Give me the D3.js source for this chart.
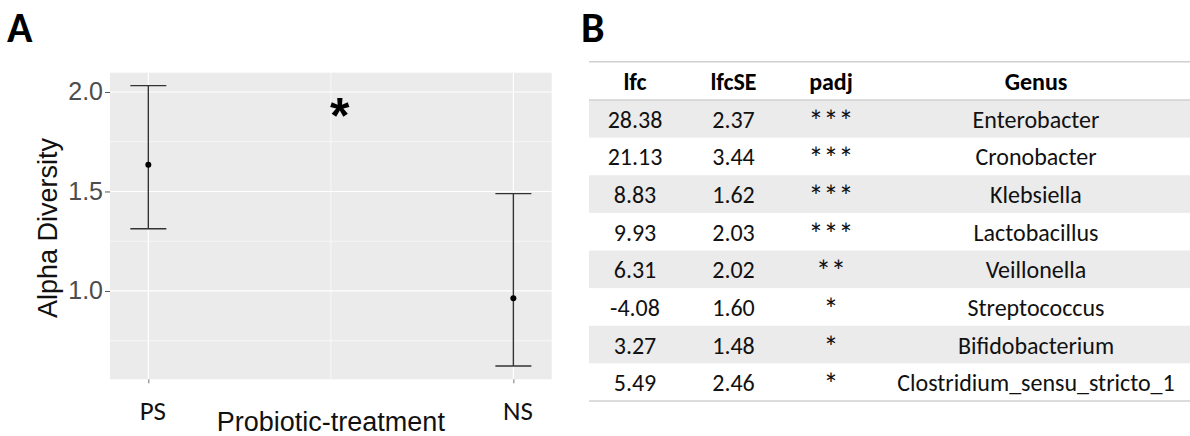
<!DOCTYPE html>
<html>
<head>
<meta charset="utf-8">
<script src="https://cdn.jsdelivr.net/npm/d3@7"></script>
<style>
  html, body { margin: 0; padding: 0; background: #ffffff; }
  svg { display: block; }
</style>
</head>
<body>
<svg id="chart" width="1190" height="436"></svg>
<script>
// ---------- Panel A data ----------
const groups = ["PS", "NS"];
const means = [1.634, 0.963];
const lower = [1.313, 0.623];
const upper = [2.032, 1.489];
const yTicks = [1.0, 1.5, 2.0];
const yMinor = [0.75, 1.25, 1.75];
const sigMark = "*";
const sigValue = 1.91;

// ---------- Panel B data ----------
const tableHeader = ["lfc", "lfcSE", "padj", "Genus"];
const lfc = ["28.38", "21.13", "8.83", "9.93", "6.31", "-4.08", "3.27", "5.49"];
const lfcSE = ["2.37", "3.44", "1.62", "2.03", "2.02", "1.60", "1.48", "2.46"];
const padj = ["***", "***", "***", "***", "**", "*", "*", "*"];
const genus = ["Enterobacter", "Cronobacter", "Klebsiella", "Lactobacillus",
               "Veillonella", "Streptococcus", "Bifidobacterium", "Clostridium_sensu_stricto_1"];

const svg = d3.select("#chart");
svg.append("rect").attr("width", 1190).attr("height", 436).attr("fill", "#ffffff");

const calibri = "Carlito, Lato, 'Open Sans', sans-serif";
const arial = "'Liberation Sans', Arial, sans-serif";

// ---------- Panel labels ----------
svg.append("text").attr("x", 7).attr("y", 42).text("A")
  .attr("font-family", calibri).attr("font-weight", 900).attr("font-size", 42).attr("fill", "#000");
svg.append("text").attr("x", 581).attr("y", 42).text("B")
  .attr("font-family", calibri).attr("font-weight", 900).attr("font-size", 42).attr("fill", "#000");

// ---------- Panel A ----------
const plot = { left: 110, right: 551.7, top: 72.7, bottom: 379.3 };
const x = d3.scalePoint().domain(groups).range([plot.left, plot.right]).padding(0.105);
const y = d3.scaleLinear().domain([0.556, 2.097]).range([plot.bottom, plot.top]);

const gA = svg.append("g");
gA.append("rect")
  .attr("x", plot.left).attr("y", plot.top)
  .attr("width", plot.right - plot.left).attr("height", plot.bottom - plot.top)
  .attr("fill", "#ebebeb");

// minor gridlines
gA.selectAll(".yminor").data(yMinor).join("line")
  .attr("x1", plot.left).attr("x2", plot.right)
  .attr("y1", d => y(d)).attr("y2", d => y(d))
  .attr("stroke", "#ffffff").attr("stroke-width", 0.6);
const midX = (x(groups[0]) + x(groups[1])) / 2;
gA.append("line")
  .attr("x1", midX).attr("x2", midX).attr("y1", plot.top).attr("y2", plot.bottom)
  .attr("stroke", "#ffffff").attr("stroke-width", 0.6);
// major gridlines
gA.selectAll(".ymajor").data(yTicks).join("line")
  .attr("x1", plot.left).attr("x2", plot.right)
  .attr("y1", d => y(d)).attr("y2", d => y(d))
  .attr("stroke", "#ffffff").attr("stroke-width", 1.2);
gA.selectAll(".xmajor").data(groups).join("line")
  .attr("x1", d => x(d)).attr("x2", d => x(d))
  .attr("y1", plot.top).attr("y2", plot.bottom)
  .attr("stroke", "#ffffff").attr("stroke-width", 1.2);

// y axis
const yAxis = d3.axisLeft(y).tickValues(yTicks).tickFormat(d3.format(".1f")).tickSize(5).tickPadding(2);
const gy = gA.append("g").attr("transform", `translate(${plot.left},0)`).call(yAxis);
gy.select(".domain").remove();
gy.selectAll(".tick line").attr("stroke", "#555").attr("stroke-width", 1);
gy.selectAll(".tick text").attr("font-family", arial).attr("font-size", 25).attr("fill", "#4d4d4d");

// x axis
const xAxis = d3.axisBottom(x).tickSize(4).tickPadding(18);
const gx = gA.append("g").attr("transform", `translate(0,${plot.bottom})`).call(xAxis);
gx.select(".domain").remove();
gx.selectAll(".tick line").attr("stroke", "#777").attr("stroke-width", 1);
gx.selectAll(".tick text").attr("font-family", calibri).attr("font-size", 27).attr("fill", "#111")
  .attr("dx", 4);

// axis titles
gA.append("text")
  .attr("transform", `translate(56.5,${(plot.top + plot.bottom) / 2 + 2}) rotate(-90)`)
  .attr("text-anchor", "middle").text("Alpha Diversity")
  .attr("font-family", arial).attr("font-size", 27).attr("fill", "#111");
gA.append("text")
  .attr("x", midX).attr("y", 431)
  .attr("text-anchor", "middle").text("Probiotic-treatment")
  .attr("font-family", arial).attr("font-size", 27).attr("fill", "#111");

// error bars
const capHalf = 18;
const idx = d3.range(groups.length);
gA.selectAll(".ebar").data(idx).join("line")
  .attr("x1", i => x(groups[i])).attr("x2", i => x(groups[i]))
  .attr("y1", i => y(lower[i])).attr("y2", i => y(upper[i]))
  .attr("stroke", "#333").attr("stroke-width", 1.4);
gA.selectAll(".capTop").data(idx).join("line")
  .attr("x1", i => x(groups[i]) - capHalf).attr("x2", i => x(groups[i]) + capHalf)
  .attr("y1", i => y(upper[i])).attr("y2", i => y(upper[i]))
  .attr("stroke", "#333").attr("stroke-width", 1.4);
gA.selectAll(".capBot").data(idx).join("line")
  .attr("x1", i => x(groups[i]) - capHalf).attr("x2", i => x(groups[i]) + capHalf)
  .attr("y1", i => y(lower[i])).attr("y2", i => y(lower[i]))
  .attr("stroke", "#333").attr("stroke-width", 1.4);
gA.selectAll(".pt").data(idx).join("circle")
  .attr("cx", i => x(groups[i])).attr("cy", i => y(means[i])).attr("r", 3)
  .attr("fill", "#000");

// significance mark
gA.append("text")
  .attr("x", midX + 9).attr("y", y(sigValue) + 23)
  .attr("text-anchor", "middle").text(sigMark)
  .attr("font-family", arial).attr("font-weight", 700).attr("font-size", 50).attr("fill", "#000");

// ---------- Panel B (table) ----------
const tbl = { left: 589, right: 1190, top: 61.7, headBottom: 100, bottom: 401 };
const colX = d3.scaleOrdinal().domain(tableHeader).range([635, 733.5, 831, 1036]);
const rowY = d3.scaleBand().domain(d3.range(genus.length)).range([tbl.headBottom, tbl.bottom]);

const gB = svg.append("g");
gB.selectAll(".band").data(d3.range(genus.length).filter(i => i % 2 === 0)).join("rect")
  .attr("x", tbl.left).attr("width", tbl.right - tbl.left)
  .attr("y", i => rowY(i)).attr("height", rowY.bandwidth())
  .attr("fill", "#ebebeb");

[tbl.top, tbl.headBottom, tbl.bottom].forEach(yy => {
  gB.append("line").attr("x1", tbl.left).attr("x2", tbl.right)
    .attr("y1", yy).attr("y2", yy).attr("stroke", "#d0d0d0").attr("stroke-width", 1.6);
});

gB.selectAll(".head").data(tableHeader).join("text")
  .attr("x", d => colX(d)).attr("y", 90)
  .attr("text-anchor", "middle").text(d => d)
  .attr("font-family", calibri).attr("font-weight", 700).attr("font-size", 24).attr("fill", "#000");

const columns = [lfc, lfcSE, padj, genus];
columns.forEach((col, c) => {
  const isStar = c === 2;
  gB.selectAll(".c" + c).data(col).join("text")
    .attr("x", colX(tableHeader[c]))
    .attr("y", (d, i) => rowY(i) + rowY.bandwidth() / 2 + (isStar ? 13 : 9))
    .attr("text-anchor", "middle").text(d => d)
    .attr("font-family", calibri).attr("font-size", isStar ? 30 : 24)
    .attr("fill", "#111");
});
</script>
</body>
</html>
